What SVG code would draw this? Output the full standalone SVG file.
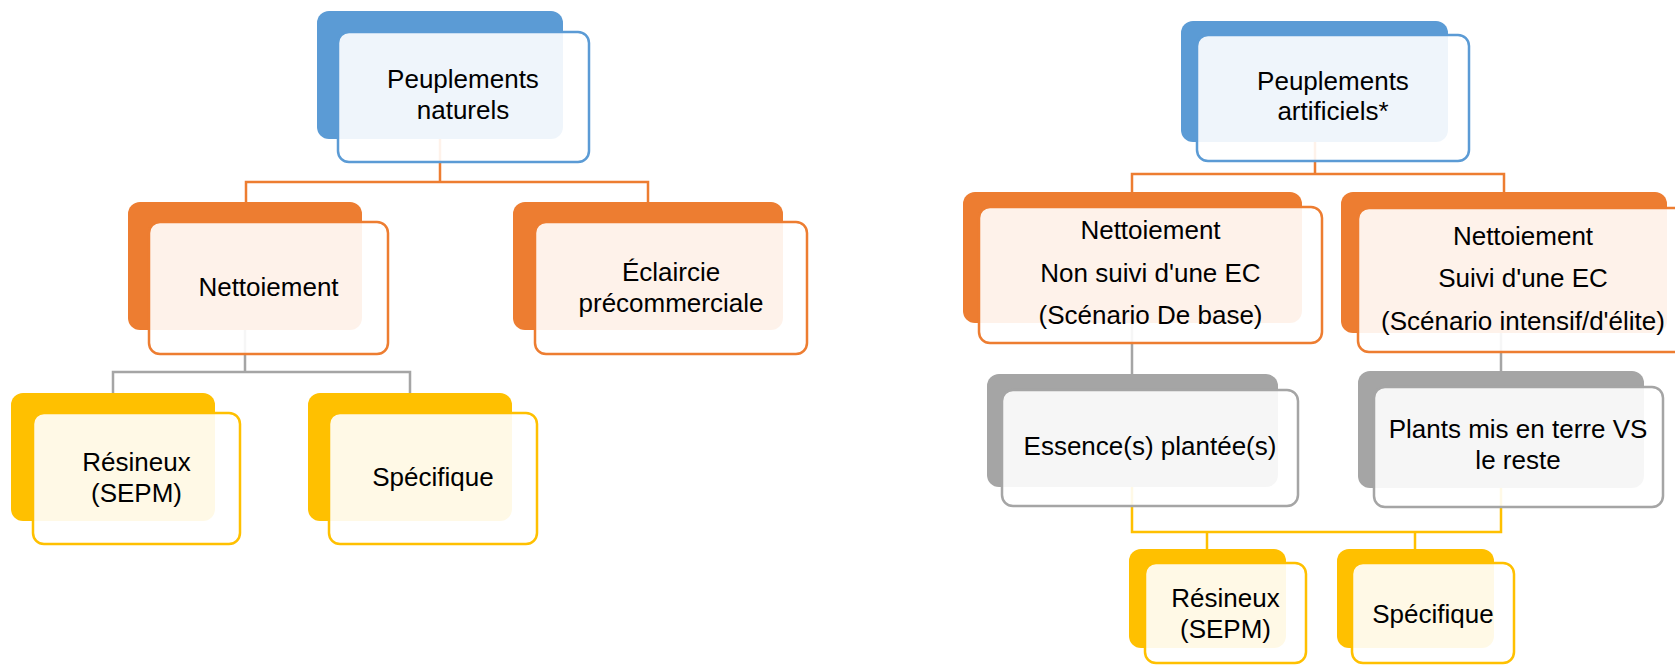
<svg xmlns="http://www.w3.org/2000/svg" width="1675" height="665" viewBox="0 0 1675 665">
<style>
.bg{fill:#ffffff}
.conn{fill:none;stroke-width:2.5}
.c-or{stroke:#ED7D31}.c-gr{stroke:#A5A5A5}.c-ye{stroke:#FFC000}
.back{stroke:none}
.front{fill:#ffffff;fill-opacity:0.9;stroke-width:2.5}
.blue .back{fill:#5B9BD5}.blue .front{stroke:#5B9BD5}
.orange .back{fill:#ED7D31}.orange .front{stroke:#ED7D31}
.gray .back{fill:#A5A5A5}.gray .front{stroke:#A5A5A5}
.yellow .back{fill:#FFC000}.yellow .front{stroke:#FFC000}
text{font-family:"Liberation Sans",Arial,sans-serif;font-size:26px;fill:#000;text-anchor:middle}
</style>
<rect class="bg" x="0" y="0" width="1675" height="665"/>
<g id="connectors">
<path class="conn c-or" d="M440,139 V182 M246,202 V182 H648 V202"/>
<path class="conn c-gr" d="M245,330 V372 M113,393 V372 H410 V393"/>
<path class="conn c-or" d="M1315,142 V174 M1132,192 V174 H1504 V192"/>
<path class="conn c-gr" d="M1132,323 V374 M1501,333 V371"/>
<path class="conn c-ye" d="M1132,487 V532 H1501 V488 M1207,532 V549 M1415,532 V549"/>
</g>
<g id="n-peuplements-naturels" class="blue">
<rect class="back" x="317" y="11" width="246" height="128" rx="12"/>
<rect class="front" x="338" y="32" width="251" height="130" rx="11"/>
<text x="463" y="88">Peuplements</text>
<text x="463" y="119">naturels</text>
</g>
<g id="n-nettoiement" class="orange">
<rect class="back" x="128" y="202" width="234" height="128" rx="12"/>
<rect class="front" x="149" y="222" width="239" height="132" rx="11"/>
<text x="268.5" y="296">Nettoiement</text>
</g>
<g id="n-eclaircie" class="orange">
<rect class="back" x="513" y="202" width="270" height="128" rx="12"/>
<rect class="front" x="535" y="222" width="272" height="132" rx="11"/>
<text x="671" y="281">Éclaircie</text>
<text x="671" y="312">précommerciale</text>
</g>
<g id="n-resineux-l" class="yellow">
<rect class="back" x="11" y="393" width="204" height="128" rx="12"/>
<rect class="front" x="33" y="413" width="207" height="131" rx="11"/>
<text x="136.5" y="471">Résineux</text>
<text x="136.5" y="502">(SEPM)</text>
</g>
<g id="n-specifique-l" class="yellow">
<rect class="back" x="308" y="393" width="204" height="128" rx="12"/>
<rect class="front" x="329" y="413" width="208" height="131" rx="11"/>
<text x="433" y="486">Spécifique</text>
</g>
<g id="n-peuplements-artificiels" class="blue">
<rect class="back" x="1181" y="21" width="267" height="121" rx="12"/>
<rect class="front" x="1197" y="35" width="272" height="126" rx="11"/>
<text x="1333" y="90">Peuplements</text>
<text x="1333" y="120">artificiels*</text>
</g>
<g id="n-nettoiement-non-suivi" class="orange">
<rect class="back" x="963" y="192" width="339" height="131" rx="12"/>
<rect class="front" x="979" y="207" width="343" height="136" rx="11"/>
<text x="1150.5" y="239">Nettoiement</text>
<text x="1150.5" y="282">Non suivi d'une EC</text>
<text x="1150.5" y="324">(Scénario De base)</text>
</g>
<g id="n-nettoiement-suivi" class="orange">
<rect class="back" x="1341" y="192" width="326" height="141" rx="12"/>
<rect class="front" x="1358" y="208" width="332" height="144" rx="11"/>
<text x="1523" y="245">Nettoiement</text>
<text x="1523" y="287">Suivi d'une EC</text>
<text x="1523" y="330">(Scénario intensif/d'élite)</text>
</g>
<g id="n-essences" class="gray">
<rect class="back" x="987" y="374" width="291" height="113" rx="12"/>
<rect class="front" x="1002" y="390" width="296" height="116" rx="11"/>
<text x="1150" y="455">Essence(s) plantée(s)</text>
</g>
<g id="n-plants" class="gray">
<rect class="back" x="1358" y="371" width="286" height="117" rx="12"/>
<rect class="front" x="1374" y="387" width="289" height="120" rx="11"/>
<text x="1518" y="438">Plants mis en terre VS</text>
<text x="1518" y="469">le reste</text>
</g>
<g id="n-resineux-r" class="yellow">
<rect class="back" x="1129" y="549" width="157" height="99" rx="12"/>
<rect class="front" x="1145" y="563" width="161" height="100" rx="11"/>
<text x="1225.5" y="607">Résineux</text>
<text x="1225.5" y="638">(SEPM)</text>
</g>
<g id="n-specifique-r" class="yellow">
<rect class="back" x="1337" y="549" width="157" height="99" rx="12"/>
<rect class="front" x="1352" y="563" width="162" height="100" rx="11"/>
<text x="1433" y="623">Spécifique</text>
</g>
</svg>
